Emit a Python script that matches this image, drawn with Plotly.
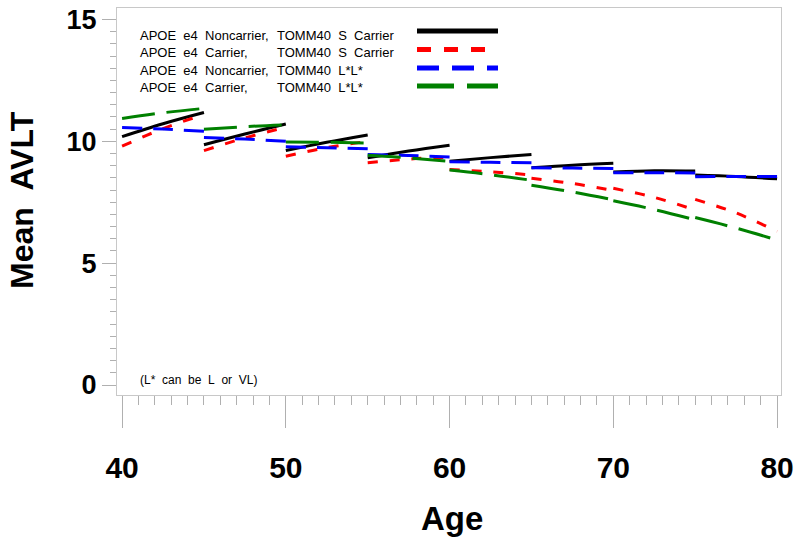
import plotly.graph_objects as go

# ---- data ----
seg_start_age = [40, 45, 50, 55, 60, 65, 70, 75]
seg_mid_age = [42.5, 47.5, 52.5, 57.5, 62.5, 67.5, 72.5, 77.5]
seg_end_age = [45, 50, 55, 60, 65, 70, 75, 80]

black_start = [10.19, 9.86, 9.62, 9.32, 9.18, 8.91, 8.74, 8.62]
black_mid = [10.72, 10.30, 9.96, 9.60, 9.33, 9.02, 8.79, 8.56]
black_end = [11.18, 10.71, 10.26, 9.84, 9.46, 9.10, 8.78, 8.46]

red_start = [9.80, 9.62, 9.39, 9.12, 8.84, 8.48, 8.07, 7.62]
red_mid = [10.52, 10.14, 9.74, 9.27, 8.75, 8.27, 7.70, 7.06]
red_end = [11.10, 10.58, 10.00, 9.35, 8.62, 7.98, 7.18, 6.30]

blue_start = [10.57, 10.16, 9.78, 9.46, 9.16, 8.91, 8.71, 8.55]
blue_mid = [10.50, 10.09, 9.74, 9.42, 9.14, 8.90, 8.71, 8.56]
blue_end = [10.41, 10.00, 9.69, 9.36, 9.12, 8.88, 8.70, 8.56]

green_start = [10.94, 10.49, 9.97, 9.43, 8.82, 8.20, 7.56, 6.87]
green_mid = [11.17, 10.60, 9.96, 9.32, 8.63, 7.92, 7.20, 6.44]
green_end = [11.35, 10.68, 9.93, 9.18, 8.40, 7.60, 6.78, 5.95]

legend_left = ["APOE\u00a0 e4\u00a0 Noncarrier,", "APOE\u00a0 e4\u00a0 Carrier,",
               "APOE\u00a0 e4\u00a0 Noncarrier,", "APOE\u00a0 e4\u00a0 Carrier,"]
legend_right = ["TOMM40\u00a0 S\u00a0 Carrier", "TOMM40\u00a0 S\u00a0 Carrier",
                "TOMM40\u00a0 L*L*", "TOMM40\u00a0 L*L*"]
note_text = "(L*\u00a0 can\u00a0 be\u00a0 L\u00a0 or\u00a0 VL)"

x_ticks = [40, 50, 60, 70, 80]
y_ticks = [0, 5, 10, 15]

# ---- build ----
# body margin is removed below, so the figure fills the window; plot area x 117..781, y 8..395
SL, SR, ST, SB = 117, 781, 8, 395
W, H = 800, 543
L, T = SL, ST
R, B = W - SR, H - SB
PW, PH = SR - SL, SB - ST


def px2x(px):
    return (px - SL) / PW


def py2y(py):
    return (SB - py) / PH


def build(starts, mids, ends):
    xs, ys = [], []
    for i in range(len(starts)):
        xs += [seg_start_age[i], seg_mid_age[i], seg_end_age[i], None]
        ys += [starts[i], mids[i], ends[i], None]
    return xs, ys


series = [
    (black_start, black_mid, black_end, "black", "solid", "solid"),
    (red_start, red_mid, red_end, "#ff0000", "10px,12px", "14px,13px"),
    (blue_start, blue_mid, blue_end, "#0000ff", "20px,11px", "22px,13px"),
    (green_start, green_mid, green_end, "#008000", "33px,12px", "37px,13px"),
]

fig = go.Figure()
for s, m, e, col, dash, _ in series:
    xs, ys = build(s, m, e)
    fig.add_trace(go.Scatter(x=xs, y=ys, mode="lines",
                             line=dict(color=col, width=3, dash=dash, shape="spline"),
                             connectgaps=False, showlegend=False, hoverinfo="skip"))

font = "Liberation Sans, Arial, sans-serif"
shapes = []
annotations = []
text_y = [35, 53, 71, 88]
line_y = [31, 49.5, 68, 86]
for i, (_, _, _, col, _, ldash) in enumerate(series):
    shapes.append(dict(type="line", xref="paper", yref="paper",
                       x0=px2x(417), x1=px2x(498), y0=py2y(line_y[i]), y1=py2y(line_y[i]),
                       line=dict(color=col, width=5, dash=ldash)))
    annotations.append(dict(xref="paper", yref="paper", x=px2x(138), y=py2y(text_y[i]),
                            xanchor="left", yanchor="middle", showarrow=False,
                            text=legend_left[i], font=dict(family=font, size=13, color="black")))
    annotations.append(dict(xref="paper", yref="paper", x=px2x(275), y=py2y(text_y[i]),
                            xanchor="left", yanchor="middle", showarrow=False,
                            text=legend_right[i], font=dict(family=font, size=13, color="black")))

annotations.append(dict(xref="paper", yref="paper", x=px2x(138), y=py2y(380),
                        xanchor="left", yanchor="middle", showarrow=False,
                        text=note_text, font=dict(family=font, size=12, color="black")))

# axis titles
annotations.append(dict(xref="paper", yref="paper", x=px2x(452), y=py2y(518),
                        xanchor="center", yanchor="middle", showarrow=False,
                        text="<b>Age</b>", font=dict(family=font, size=33, color="black")))
annotations.append(dict(xref="paper", yref="paper", x=px2x(22), y=py2y(200),
                        xanchor="center", yanchor="middle", showarrow=False, textangle=-90,
                        text="<b>Mean\u00a0 AVLT</b>", font=dict(family=font, size=32, color="black")))

fig.update_layout(
    width=W, height=H,
    margin=dict(l=L, r=R, t=T, b=B, autoexpand=False),
    paper_bgcolor="white", plot_bgcolor="white",
    shapes=shapes, annotations=annotations,
    font=dict(family=font, color="black"),
)

fig.update_xaxes(
    range=[39.69, 80.24], tickvals=x_ticks, ticktext=[str(v) for v in x_ticks],
    ticks="outside", ticklen=32, tickwidth=1, tickcolor="#b0b0b0",
    minor=dict(dtick=1, ticks="outside", ticklen=9, tickcolor="#b0b0b0", showgrid=False),
    showline=True, linecolor="#c8c8c8", linewidth=1, mirror=True,
    showgrid=False, zeroline=False, automargin=False,
    tickfont=dict(family=font, size=30, color="black", weight="bold"),
    ticklabelstandoff=14, ticklabeloverflow="allow",
)
fig.update_yaxes(
    range=[-0.41, 15.47], tickvals=y_ticks, ticktext=[str(v) for v in y_ticks],
    ticks="outside", ticklen=14, tickwidth=1, tickcolor="#b0b0b0",
    minor=dict(dtick=0.5, ticks="outside", ticklen=6, tickcolor="#b0b0b0", showgrid=False),
    showline=True, linecolor="#c8c8c8", linewidth=1, mirror=True,
    showgrid=False, zeroline=False, automargin=False,
    tickfont=dict(family=font, size=27, color="black", weight="bold"),
    ticklabeloverflow="allow",
)

fig.write_html("out.html", config={"displayModeBar": False},
               post_script="document.body.style.margin='0';document.body.style.overflow='hidden';")
